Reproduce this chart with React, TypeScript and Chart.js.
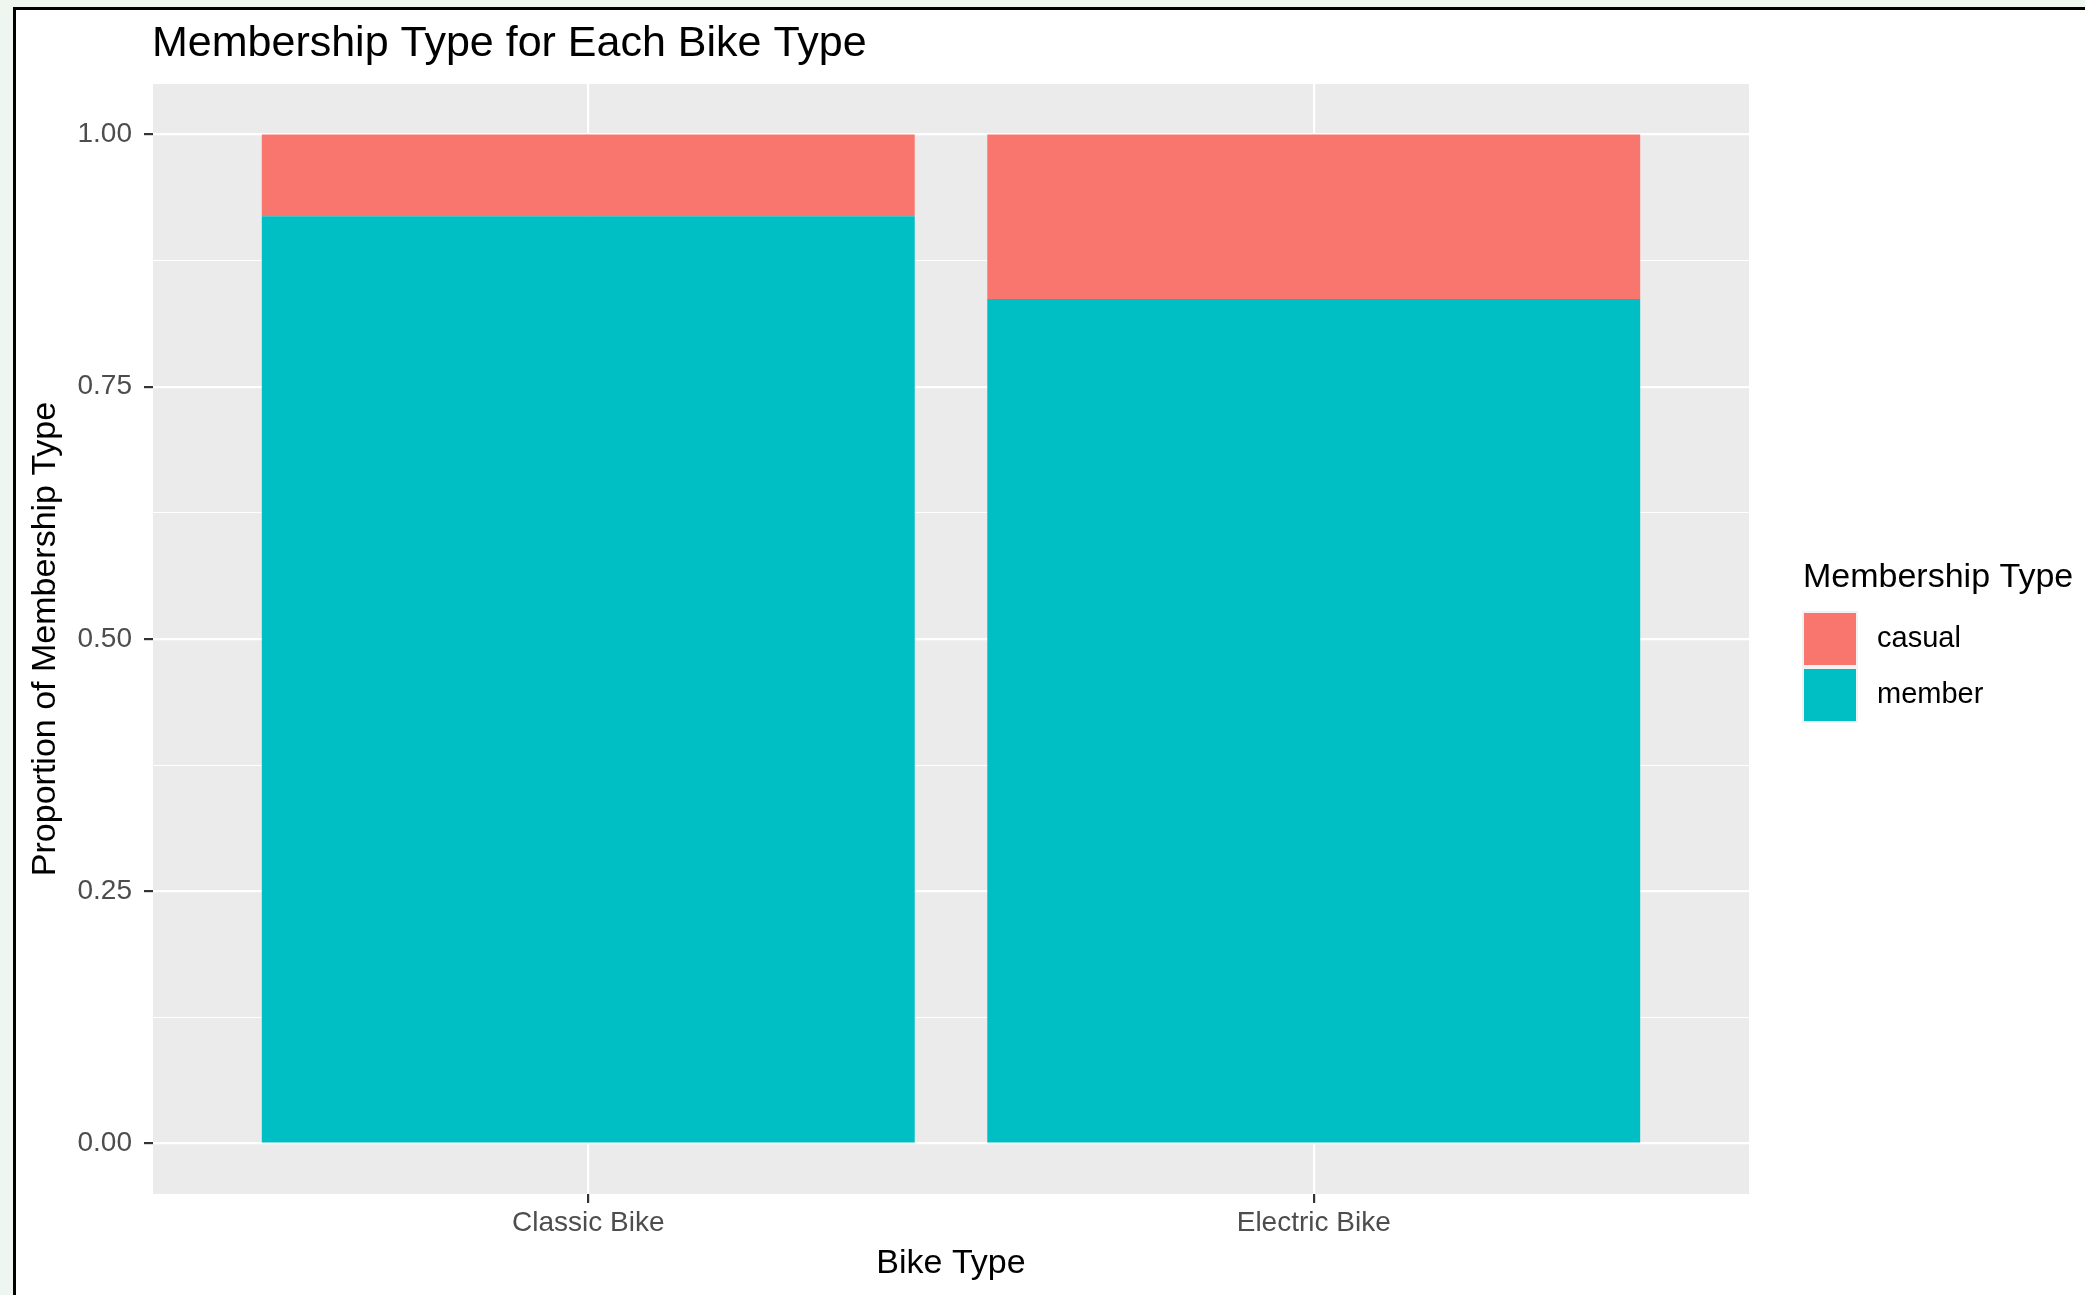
import React, { useEffect, useRef } from 'react';
import { Chart, registerables } from 'chart.js';

Chart.register(...registerables);

// ---- data ----
const bikeTypes = ['Classic Bike', 'Electric Bike'];
const membershipTypes = ['casual', 'member'];
const memberShare = [0.919, 0.837];
const casualShare = [0.081, 0.163];
const yTickValues = [0, 0.25, 0.5, 0.75, 1];
const yTickLabels = ['0.00', '0.25', '0.50', '0.75', '1.00'];
const chartTitle = 'Membership Type for Each Bike Type';
const xAxisTitle = 'Bike Type';
const yAxisTitle = 'Proportion of Membership Type';
const legendTitle = 'Membership Type';

// ---- style ----
const W = 2085;
const H = 1295;
const FONT = '"Liberation Sans", Arial, Helvetica, sans-serif';
const seriesColors: Record<string, string> = { casual: '#F8766D', member: '#00BFC4' };

const yMinor = yTickValues.slice(0, -1).map((v, i) => (v + yTickValues[i + 1]) / 2);
const yAllTicks = [...yTickValues, ...yMinor].sort((a, b) => a - b);
const isMajor = (v: number) => yTickValues.indexOf(v) >= 0;

const ggPlugin = {
  id: 'ggDecor',
  beforeDraw(chart: any) {
    const { ctx, chartArea: a } = chart;
    ctx.save();
    ctx.fillStyle = '#EBEBEB';
    ctx.fillRect(a.left, a.top, a.right - a.left, a.bottom - a.top);
    ctx.restore();
  },
  afterDraw(chart: any) {
    const { ctx, chartArea: a } = chart;
    ctx.save();
    ctx.textAlign = 'left';
    ctx.textBaseline = 'alphabetic';
    ctx.fillStyle = '#000000';
    ctx.font = `43px ${FONT}`;
    ctx.fillText(chartTitle, a.left - 1, 56);

    const lx = a.right + 53;
    ctx.font = `34px ${FONT}`;
    ctx.fillText(legendTitle, lx + 1, 587);

    const items = chart.data.datasets.slice().reverse();
    items.forEach((ds: any, i: number) => {
      const top = 611 + i * 56;
      ctx.fillStyle = '#F2F2F2';
      ctx.fillRect(lx, top, 56, 56);
      ctx.fillStyle = ds.backgroundColor;
      ctx.fillRect(lx + 2, top + 2, 52, 52);
      ctx.fillStyle = '#000000';
      ctx.font = `29px ${FONT}`;
      ctx.textBaseline = 'middle';
      ctx.fillText(ds.label, lx + 75, top + 28);
      ctx.textBaseline = 'alphabetic';
    });
    ctx.restore();
  },
};

export default function App() {
  const ref = useRef<HTMLCanvasElement>(null);

  useEffect(() => {
    document.body.style.margin = '0';
    const shares: Record<string, number[]> = { casual: casualShare, member: memberShare };
    const order = membershipTypes.slice().reverse(); // member stacked at bottom
    const chart = new Chart(ref.current as HTMLCanvasElement, {
      type: 'bar',
      data: {
        datasets: order.map((m) => ({
          label: m,
          data: bikeTypes.map((_, i) => ({ x: i + 1, y: shares[m][i] })),
          backgroundColor: seriesColors[m],
          borderWidth: 0,
          barPercentage: 0.9,
          categoryPercentage: 1,
        })),
      },
      options: {
        responsive: false,
        animation: false,
        layout: { padding: { left: 0, top: 84, right: 336, bottom: 0 } },
        plugins: {
          legend: { display: false },
          title: { display: false },
          tooltip: { enabled: false },
        },
        scales: {
          x: {
            type: 'linear',
            min: 0.4,
            max: 2.6,
            stacked: true,
            offset: false,
            afterBuildTicks: (s: any) => {
              s.ticks = bikeTypes.map((_, i) => ({ value: i + 1 }));
            },
            afterFit: (s: any) => {
              s.height = 101;
            },
            ticks: {
              autoSkip: false,
              maxRotation: 0,
              minRotation: 0,
              padding: 3,
              color: '#4D4D4D',
              font: { family: FONT, size: 28, lineHeight: 1.2 },
              callback: (v: any) => bikeTypes[Math.round(Number(v)) - 1] ?? '',
            },
            grid: {
              offset: false,
              color: '#FFFFFF',
              lineWidth: 2.2,
              tickLength: 9,
              tickColor: '#333333',
              tickWidth: 2.2,
            },
            border: { display: false },
            title: {
              display: true,
              text: xAxisTitle,
              color: '#000000',
              font: { family: FONT, size: 34, lineHeight: 1.2 },
              padding: { top: 0, bottom: 11 },
            },
          },
          y: {
            type: 'linear',
            min: -0.05,
            max: 1.05,
            stacked: true,
            afterBuildTicks: (s: any) => {
              s.ticks = yAllTicks.map((v) => ({ value: v }));
            },
            afterFit: (s: any) => {
              s.width = 153;
            },
            ticks: {
              autoSkip: false,
              padding: 12,
              color: '#4D4D4D',
              font: { family: FONT, size: 28, lineHeight: 1.2 },
              callback: (v: any) => {
                const k = yTickValues.indexOf(Number(v));
                return k >= 0 ? yTickLabels[k] : '';
              },
            },
            grid: {
              offset: false,
              color: '#FFFFFF',
              lineWidth: (c: any) => (c.tick && isMajor(c.tick.value) ? 2.2 : 1.1),
              tickLength: 9,
              tickColor: (c: any) => (c.tick && isMajor(c.tick.value) ? '#333333' : 'rgba(0,0,0,0)'),
              tickWidth: 2.2,
            },
            border: { display: false },
            title: {
              display: true,
              text: yAxisTitle,
              color: '#000000',
              font: { family: FONT, size: 34, lineHeight: 1.2 },
              padding: { top: 25, bottom: 0 },
            },
          },
        },
      } as any,
      plugins: [ggPlugin],
    });
    return () => chart.destroy();
  }, []);

  return (
    <div style={{ position: 'absolute', left: 0, top: 0, width: W, height: H, background: '#EEF6EF', overflow: 'hidden' }}>
      <div
        style={{
          position: 'absolute',
          left: 13,
          top: 7,
          right: 0,
          bottom: 0,
          background: '#FFFFFF',
          borderLeft: '3px solid #000000',
          borderTop: '3px solid #000000',
        }}
      />
      <canvas ref={ref} width={W} height={H} style={{ position: 'absolute', left: 0, top: 0, width: W, height: H }} />
    </div>
  );
}
